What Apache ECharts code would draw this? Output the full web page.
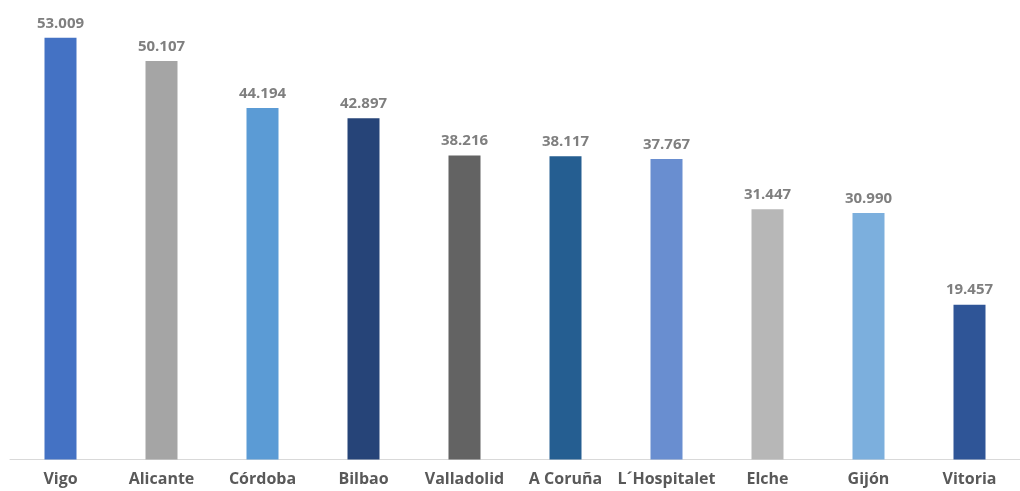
<!DOCTYPE html>
<html>
<head>
<meta charset="utf-8">
<script src="https://cdn.jsdelivr.net/npm/echarts@6/dist/echarts.min.js"></script>
<style>
html,body{margin:0;padding:0;background:#fff;}
#chart{width:1020px;height:491px;}
</style>
</head>
<body>
<div id="chart"></div>
<script>
const categories = ['Vigo', 'Alicante', 'Córdoba', 'Bilbao', 'Valladolid', 'A Coruña', 'L´Hospitalet', 'Elche', 'Gijón', 'Vitoria'];
const values = [53.009, 50.107, 44.194, 42.897, 38.216, 38.117, 37.767, 31.447, 30.990, 19.457];
const colors = ['#4472C4', '#A5A5A5', '#5B9BD5', '#264478', '#636363', '#255E91', '#698ED0', '#B7B7B7', '#7CAFDD', '#2F5597'];

const chart = echarts.init(document.getElementById('chart'), null, {renderer: 'canvas'});
chart.setOption({
  animation: false,
  backgroundColor: '#ffffff',
  grid: {left: 10, width: 1021, top: 22, bottom: 31.5, containLabel: false},
  xAxis: {
    type: 'category',
    data: categories,
    axisLine: {lineStyle: {color: '#D9D9D9', width: 1}},
    axisTick: {show: false},
    axisLabel: {
      interval: 0,
      margin: 12,
      color: '#595959',
      fontFamily: 'Open Sans',
      fontWeight: 'bold',
      fontSize: 16
    }
  },
  yAxis: {
    type: 'value',
    min: 0,
    max: 55,
    show: false,
    splitLine: {show: false}
  },
  series: [{
    type: 'bar',
    barWidth: 32,
    data: values.map((v, i) => ({value: v, itemStyle: {color: colors[i]}})),
    label: {
      show: true,
      position: 'top',
      distance: 7,
      color: '#7F7F7F',
      fontFamily: 'Open Sans',
      fontWeight: 'bold',
      fontSize: 15,
      formatter: p => p.value.toFixed(3)
    }
  }]
});
</script>
</body>
</html>
